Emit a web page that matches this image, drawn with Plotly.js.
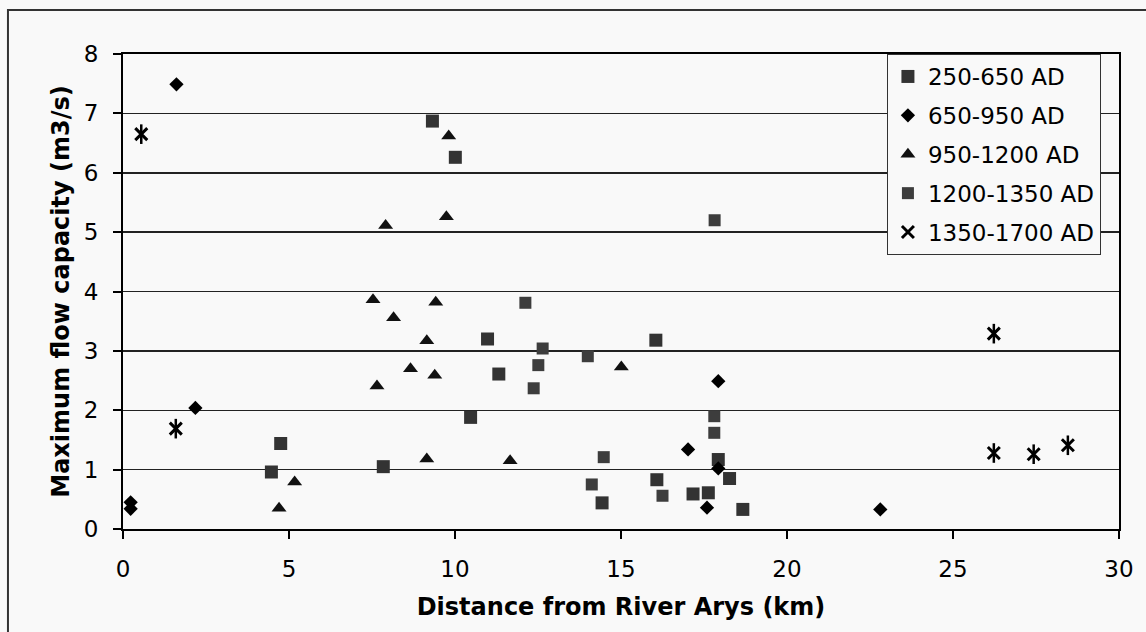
<!DOCTYPE html>
<html>
<head>
<meta charset="utf-8">
<script src="https://cdn.plot.ly/plotly-3.0.1.min.js"></script>
<style>html,body{margin:0;padding:0;background:#f9f9f9;}#chart{width:1146px;height:632px;}</style>
</head>
<body>
<div id="chart"></div>
<script>
// 250-650 AD
const s1x = [9.32, 10.01, 4.75, 4.47, 7.84, 10.98, 11.32, 10.47, 16.05, 14.43, 16.08, 17.17, 17.63, 17.93, 18.27, 18.67];
const s1y = [6.87, 6.26, 1.44, 0.96, 1.05, 3.20, 2.61, 1.88, 3.18, 0.44, 0.83, 0.59, 0.61, 1.17, 0.85, 0.33];
// 650-950 AD
const s2x = [1.61, 0.23, 0.23, 2.18, 17.93, 17.02, 17.93, 17.59, 22.81];
const s2y = [7.49, 0.45, 0.34, 2.04, 2.49, 1.34, 1.02, 0.36, 0.33];
// 950-1200 AD
const s3x = [9.81, 7.91, 9.74, 7.53, 8.15, 9.42, 9.15, 8.66, 9.39, 7.65, 15.01, 9.15, 11.66, 5.17, 4.70];
const s3y = [6.62, 5.11, 5.26, 3.86, 3.56, 3.82, 3.17, 2.70, 2.59, 2.41, 2.73, 1.18, 1.15, 0.79, 0.35];
// 1200-1350 AD
const s4x = [12.12, 12.64, 12.51, 12.37, 14.00, 14.48, 14.12, 16.25, 17.81, 17.81, 17.82];
const s4y = [3.81, 3.04, 2.76, 2.37, 2.91, 1.21, 0.75, 0.56, 1.90, 1.62, 5.20];
// 1350-1700 AD
const s5x = [0.55, 1.59, 26.23, 26.23, 27.43, 28.46];
const s5y = [6.65, 1.69, 3.29, 1.28, 1.26, 1.41];

const names = ['250-650 AD', '650-950 AD', '950-1200 AD', '1200-1350 AD', '1350-1700 AD'];
const xTicks = [0, 5, 10, 15, 20, 25, 30];
const yTicks = [0, 1, 2, 3, 4, 5, 6, 7, 8];

const traces = [
  {x: s1x, y: s1y, name: names[0], legendgroup: 'g1', mode: 'markers', type: 'scatter',
   marker: {symbol: 'square', size: 13, color: '#333333'}},
  {x: s2x, y: s2y, name: names[1], legendgroup: 'g2', mode: 'markers', type: 'scatter',
   marker: {symbol: 'diamond', size: 11, color: '#000000'}},
  {x: s3x, y: s3y, name: names[2], legendgroup: 'g3', mode: 'markers', type: 'scatter',
   marker: {symbol: 'triangle-up', size: 13, color: '#111111'}},
  {x: s4x, y: s4y, name: names[3], legendgroup: 'g4', mode: 'markers', type: 'scatter',
   marker: {symbol: 'square', size: 12, color: '#3d3d3d'}},
  {x: s5x, y: s5y, name: names[4], legendgroup: 'g5', mode: 'markers', type: 'scatter',
   marker: {symbol: 'x-thin-open', size: 12, color: '#000000', line: {width: 3, color: '#000000'}}},
  {x: s5x, y: s5y, name: names[4], legendgroup: 'g5', showlegend: false, mode: 'markers', type: 'scatter',
   marker: {symbol: 'line-ns-open', size: 14, color: '#000000', line: {width: 2.5, color: '#000000'}}}
];

const font = {family: 'DejaVu Sans, Arial, sans-serif', color: '#000000'};

const layout = {
  width: 1146, height: 632,
  margin: {l: 123, r: 27, t: 54, b: 103},
  paper_bgcolor: '#f9f9f9',
  plot_bgcolor: '#f9f9f9',
  font: Object.assign({size: 23}, font),
  showlegend: true,
  legend: {
    x: 0.767, y: 1.0, xanchor: 'left', yanchor: 'top',
    bgcolor: '#f9f9f9', bordercolor: '#333333', borderwidth: 1,
    font: Object.assign({size: 23}, font),
    traceorder: 'grouped', tracegroupgap: 6
  },
  xaxis: {
    range: [0, 30], tickvals: xTicks, ticktext: xTicks.map(String),
    showgrid: false, zeroline: false,
    showline: true, linecolor: '#000000', linewidth: 2, mirror: true,
    ticks: 'outside', ticklen: 8, tickwidth: 2, tickcolor: '#000000',
    ticklabelstandoff: 10,
    tickfont: Object.assign({size: 23}, font),
    title: {text: '<b>Distance from River Arys (km)</b>', font: Object.assign({size: 24}, font), standoff: 18}
  },
  yaxis: {
    range: [0, 8], tickvals: yTicks, ticktext: yTicks.map(String),
    showgrid: true, gridcolor: '#222222', gridwidth: 1.5, zeroline: false,
    showline: true, linecolor: '#000000', linewidth: 2, mirror: true,
    ticks: 'outside', ticklen: 8, tickwidth: 2, tickcolor: '#000000',
    ticklabelstandoff: 10,
    tickfont: Object.assign({size: 23}, font),
    title: {text: '<b>Maximum flow capacity (m3/s)</b>', font: Object.assign({size: 24}, font), standoff: 7}
  },
  shapes: [
    {type: 'rect', xref: 'paper', yref: 'paper', x0: -0.1155, x1: 1.06, y0: -0.25, y1: 1.0926,
     line: {color: '#333333', width: 2}, fillcolor: 'rgba(0,0,0,0)', layer: 'below'}
  ]
};

Plotly.newPlot('chart', traces, layout, {displayModeBar: false, staticPlot: true});
</script>
</body>
</html>
